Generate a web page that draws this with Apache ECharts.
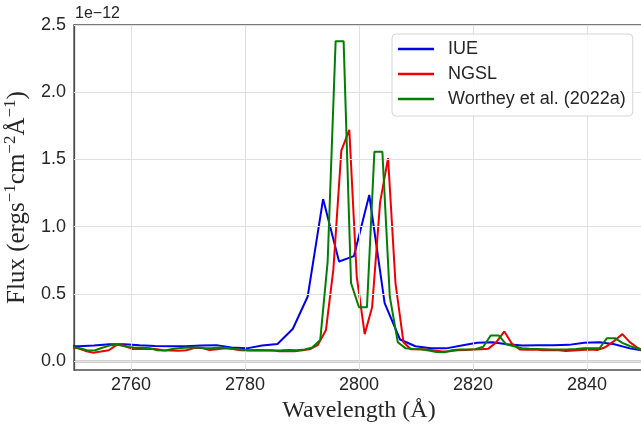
<!DOCTYPE html>
<html>
<head>
<meta charset="utf-8">
<script src="https://cdn.jsdelivr.net/npm/echarts@6/dist/echarts.min.js"></script>
<style>
html,body{margin:0;padding:0;background:#fff;}
#chart{width:641px;height:424px;}
</style>
</head>
<body>
<div id="chart"></div>
<script>
// Wavelengths (Å) and flux (units of 1e-12 ergs/s/cm^2/Å)
const iueWl = [2748.1, 2750.8, 2753.5, 2756.2, 2758.8, 2761.5, 2764.2, 2766.9, 2769.6, 2772.3, 2775.0, 2777.6, 2780.3, 2783.0, 2785.7, 2788.4, 2791.0, 2793.7, 2796.5, 2799.1, 2801.8, 2804.5, 2807.2, 2809.9, 2812.6, 2815.3, 2818.0, 2820.7, 2823.4, 2826.0, 2828.7, 2831.4, 2834.1, 2836.8, 2839.5, 2842.2, 2844.8, 2847.5, 2850.2];
const iueFlux = [0.11, 0.11, 0.115, 0.125, 0.125, 0.118, 0.112, 0.11, 0.11, 0.115, 0.118, 0.10, 0.094, 0.115, 0.126, 0.24, 0.48, 1.205, 0.74, 0.78, 1.235, 0.43, 0.16, 0.11, 0.094, 0.094, 0.115, 0.135, 0.14, 0.125, 0.115, 0.118, 0.118, 0.12, 0.135, 0.14, 0.125, 0.094, 0.075];

const ngslWl = [2749.3, 2750.7, 2752.0, 2753.4, 2754.7, 2756.1, 2757.5, 2758.8, 2760.2, 2761.5, 2762.9, 2764.3, 2765.6, 2767.0, 2768.3, 2769.7, 2771.1, 2772.4, 2773.8, 2775.1, 2776.5, 2777.9, 2779.2, 2780.6, 2781.9, 2783.3, 2784.7, 2786.0, 2787.4, 2788.7, 2790.1, 2791.5, 2792.8, 2794.2, 2795.5, 2796.9, 2798.3, 2799.6, 2801.0, 2802.3, 2803.7, 2805.1, 2806.4, 2807.8, 2809.1, 2810.5, 2811.9, 2813.2, 2814.6, 2815.9, 2817.3, 2818.7, 2820.0, 2821.4, 2822.7, 2824.1, 2825.5, 2826.8, 2828.2, 2829.5, 2830.9, 2832.3, 2833.6, 2835.0, 2836.3, 2837.7, 2839.1, 2840.4, 2841.8, 2843.1, 2844.8, 2846.2, 2847.5, 2848.8, 2850.1];
const ngslFlux = [0.10, 0.095, 0.075, 0.062, 0.07, 0.08, 0.12, 0.115, 0.09, 0.09,
  0.092, 0.09, 0.08, 0.078, 0.077, 0.08, 0.097, 0.097, 0.082, 0.088,
  0.094, 0.09, 0.08, 0.078, 0.08, 0.078, 0.08, 0.072, 0.075, 0.072,
  0.08, 0.09, 0.12, 0.23, 0.68, 1.565, 1.72, 0.63, 0.20, 0.40,
  1.18, 1.51, 0.58, 0.14, 0.087, 0.087, 0.085, 0.078, 0.07, 0.072,
  0.08, 0.082, 0.085, 0.088, 0.092, 0.14, 0.22, 0.13, 0.085, 0.083,
  0.085, 0.08, 0.082, 0.08, 0.074, 0.078, 0.082, 0.085, 0.082, 0.1,
  0.15, 0.20, 0.14, 0.1, 0.075];

const wortheyWl = [2749.7, 2751.0, 2752.4, 2753.7, 2755.1, 2756.5, 2757.8, 2759.2, 2760.5, 2761.9,
  2763.3, 2764.6, 2766.0, 2767.3, 2768.7, 2770.1, 2771.4, 2772.8, 2774.1, 2775.5,
  2776.9, 2778.2, 2779.6, 2780.9, 2782.3, 2783.7, 2785.0, 2786.4, 2787.7, 2789.1,
  2790.5, 2791.8, 2793.2, 2794.5, 2795.9, 2797.3, 2798.6, 2800.0, 2801.4, 2802.7,
  2804.1, 2805.4, 2806.8, 2808.2, 2809.5, 2810.9, 2812.2, 2813.6, 2815.0, 2816.3,
  2817.7, 2819.0, 2820.4, 2821.8, 2823.1, 2824.5, 2825.8, 2827.2, 2828.6, 2829.9,
  2831.3, 2832.6, 2834.0, 2835.4, 2836.7, 2838.1, 2839.4, 2840.8, 2842.2, 2843.5,
  2844.9, 2846.2, 2847.6, 2849.0, 2850.3];
const wortheyFlux = [0.105, 0.095, 0.078, 0.08, 0.1, 0.118, 0.12, 0.105, 0.1, 0.098,
  0.095, 0.08, 0.078, 0.09, 0.097, 0.1, 0.1, 0.097, 0.095, 0.1,
  0.097, 0.09, 0.083, 0.08, 0.082, 0.08, 0.078, 0.08, 0.082, 0.08,
  0.085, 0.1, 0.156, 0.74, 2.38, 2.38, 0.58, 0.40, 0.40, 1.557,
  1.557, 0.48, 0.14, 0.094, 0.09, 0.087, 0.078, 0.066, 0.065, 0.08,
  0.085, 0.085, 0.088, 0.106, 0.19, 0.19, 0.125, 0.11, 0.095, 0.092,
  0.09, 0.088, 0.085, 0.085, 0.087, 0.09, 0.094, 0.095, 0.095, 0.17,
  0.17, 0.135, 0.11, 0.09, 0.07];

const seriesNames = ['IUE', 'NGSL', 'Worthey et al. (2022a)'];
const xTicks = [2760, 2780, 2800, 2820, 2840];
const yTicks = [0, 0.5, 1.0, 1.5, 2.0, 2.5];
const yTickLabels = ['0.0', '0.5', '1.0', '1.5', '2.0', '2.5'];

const pairs = (xs, ys) => xs.map((x, i) => [x, ys[i]]);

const chart = echarts.init(document.getElementById('chart'), null, {renderer: 'canvas'});
const sans = '"Liberation Sans", Arial, sans-serif';
const serif = '"Liberation Serif", "DejaVu Serif", serif';
const gridColor = '#e0e0e0';

const option = {
  animation: false,
  backgroundColor: '#fff',
  grid: {left: 74, right: -3, top: 25, bottom: 54, show: true, borderColor: '#4d4d4d', borderWidth: 1.3,
    containLabel: false, outerBoundsMode: 'none'},
  xAxis: {
    type: 'value', min: 2750, max: 2850,
    axisLine: {show: true, lineStyle: {color: '#4d4d4d', width: 1.3}},
    axisTick: {show: false, customValues: xTicks},
    splitLine: {show: false},
    axisLabel: {customValues: xTicks, fontFamily: sans, fontSize: 18, color: '#262626', margin: 6,
      formatter: (v) => String(Math.round(v))},
    name: 'Wavelength (Å)', nameLocation: 'middle', nameGap: 28,
    nameTextStyle: {fontFamily: serif, fontSize: 24, color: '#262626'}
  },
  yAxis: {
    type: 'value', min: -0.067, max: 2.5,
    axisLine: {show: true, lineStyle: {color: '#4d4d4d', width: 1.3}},
    axisTick: {show: false, customValues: yTicks},
    splitLine: {show: false},
    axisLabel: {customValues: yTicks, fontFamily: sans, fontSize: 18, color: '#262626', margin: 8,
      formatter: (v) => { const i = yTicks.findIndex(t => Math.abs(t - v) < 1e-6); return i >= 0 ? yTickLabels[i] : ''; }},
    name: '{n|Flux (ergs}{s|−1}{n|cm}{s|−2}{n|Å}{s|−1}{n|)}', nameLocation: 'middle', nameGap: 37, nameRotate: 90,
    nameTextStyle: {
      color: '#262626',
      rich: {
        n: {fontFamily: serif, fontSize: 25, color: '#262626', lineHeight: 28, verticalAlign: 'bottom'},
        s: {fontFamily: serif, fontSize: 17, color: '#262626', lineHeight: 28, verticalAlign: 'top'}
      }
    }
  },
  legend: {
    data: seriesNames,
    orient: 'vertical', left: 392, top: 34, z: 20,
    itemWidth: 36, itemHeight: 2.5, itemGap: 7,
    icon: 'rect',
    padding: [6, 7, 8, 6],
    backgroundColor: 'rgba(255,255,255,0.85)',
    borderColor: '#d6d6d6', borderWidth: 1, borderRadius: 4,
    textStyle: {fontFamily: sans, fontSize: 18, color: '#262626', padding: [0, 0, 0, 9]}
  },
  graphic: [
    {type: 'text', left: 75, top: 6, style: {text: '1e−12', fontFamily: sans, fontSize: 16, fill: '#262626'}}
  ],
  series: [
    {
      type: 'line', name: '_grid', data: [], silent: true, z: 0,
      markLine: {
        silent: true, symbol: ['none', 'none'], label: {show: false}, animation: false,
        lineStyle: {color: gridColor, width: 1, type: 'solid'},
        data: xTicks.map(v => ({xAxis: v})).concat(yTicks.map(v => ({yAxis: v})))
      }
    },
    {type: 'line', name: seriesNames[0], data: pairs(iueWl, iueFlux), showSymbol: false, symbol: 'none',
      lineStyle: {color: '#0000ee', width: 2}, itemStyle: {color: '#0000ee'}, z: 3},
    {type: 'line', name: seriesNames[1], data: pairs(ngslWl, ngslFlux), showSymbol: false, symbol: 'none',
      lineStyle: {color: '#ee0000', width: 2}, itemStyle: {color: '#ee0000'}, z: 4},
    {type: 'line', name: seriesNames[2], data: pairs(wortheyWl, wortheyFlux), showSymbol: false, symbol: 'none',
      lineStyle: {color: '#007f00', width: 2}, itemStyle: {color: '#007f00'}, z: 5}
  ]
};
chart.setOption(option);
</script>
</body>
</html>
